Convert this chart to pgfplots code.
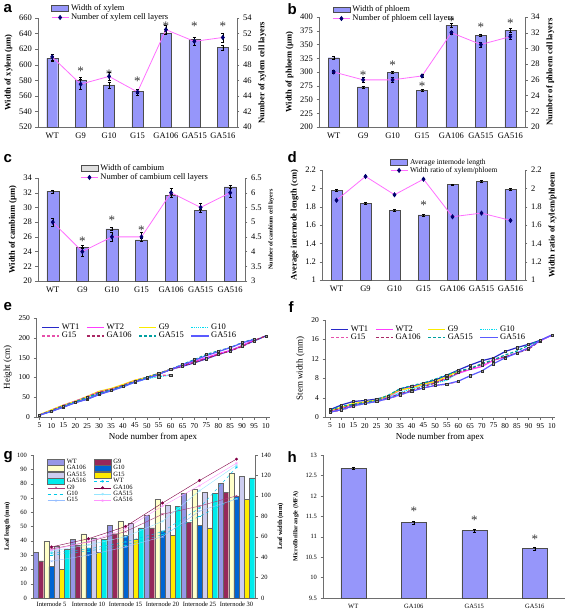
\documentclass[border=0pt]{standalone}
\usepackage{pgfplots}
\pgfplotsset{compat=1.18}
\usepackage{fontspec}
\setmainfont{Liberation Serif}
\newfontfamily\letterfont{Liberation Sans}
\definecolor{barc}{RGB}{150,150,250}
\definecolor{linec}{RGB}{255,110,255}
\definecolor{markc}{RGB}{0,0,110}
\definecolor{axc}{RGB}{110,110,110}
\definecolor{cWTa}{RGB}{40,40,200}
\definecolor{cWTb}{RGB}{255,60,255}
\definecolor{cGnine}{RGB}{250,235,0}
\definecolor{cGten}{RGB}{0,220,240}
\definecolor{cGfift}{RGB}{230,80,170}
\definecolor{cGAa}{RGB}{170,40,100}
\definecolor{cGAb}{RGB}{0,160,160}
\definecolor{cGAc}{RGB}{90,90,255}
\newcommand{\fs}[1]{\fontsize{#1}{#1}\selectfont}
\tikzset{sigstar/.style={font=\fs{13}, inner sep=0pt, yshift=-2.5pt, black!80}}
\pgfplotsset{
  common/.style={scale only axis, anchor=north west,
    /pgf/number format/assume math mode=true,
    tick align=outside, axis line style={axc}, tick style={axc},
    major tick length=2.5pt},
  twinL/.style={common, axis y line*=left, axis x line*=bottom,
    xmin=-0.5, xmax=6.5, xtick={0,...,6},
    xticklabels={WT,G9,G10,G15,GA106,GA515,GA516},
    x tick style={draw=none},
    ticklabel style={font=\fs{8.5}},
    ylabel style={font=\bfseries\fs{8.5}}},
  twinR/.style={common, axis y line*=right, axis x line=none,
    xmin=-0.5, xmax=6.5,
    ticklabel style={font=\fs{8.5}},
    ylabel style={font=\bfseries\fs{8.5}},
    legend cell align=left,
    legend style={draw=none, fill=none, font=\fs{8.5}, anchor=north west, row sep=-2.5pt}},
  barplot/.style={ybar, fill=barc, draw=black!70,
    error bars/.cd, y dir=both, y explicit, error bar style={black, thin}, error mark options={rotate=90, mark size=1.5pt, black}},
  lineplot/.style={linec, thick, mark=diamond*, mark size=2pt, mark options={markc, fill=markc},
    error bars/.cd, y dir=both, y explicit, error bar style={black, thin}, error mark options={rotate=90, mark size=1.5pt, black}},
  barleg/.style={area legend, fill=barc, draw=black!70},
  lp/.style={#1, line width=1.2pt},
  lm/.style={only marks, mark=square*, mark size=1.1pt, mark options={solid, fill=gray!70, draw=black!80, line width=0.4pt}, forget plot},
  lplot/.style={common, axis y line*=left, axis x line*=bottom,
    xmin=3.5, xmax=101.7, xtick={5,10,...,100},
    xticklabels={5,10,15,20,25,30,35,40,45,50,55,60,65,70,75,80,85,90,95,10},
    ticklabel style={font=\fs{7.5}},
    xlabel={Node number from apex},
    xlabel style={font=\fs{9}, yshift=2pt},
    ylabel style={font=\fs{9}},
    legend columns=4, legend cell align=left,
    legend style={draw=none, fill=none, font=\fs{8.5}, anchor=north west, row sep=-3pt,
      /tikz/every even column/.append style={column sep=5pt}}},
}
\pgfplotstableread{
x WTa WTb Gnine Gten Gfift GAa GAb GAc
5 5 5 6 5 5 5 5 5
10 15 17 18 15 17 16 15 14
15 25 28 30 27 30 28 28 25
20 37 40 40 37 40 38 38 36
25 45 50 52 47 52 50 50 45
30 57 62 65 58 64 62 60 57
35 67 70 72 68 70 70 68 66
40 78 80 82 77 80 80 78 76
45 90 92 93 88 92 90 90 88
50 98 100 100 97 100 100 100 97
55 108 110 110 102 105 110 110 108
60 120 120 120 106 106 120 120 120
65 128 130 nan nan nan 130 133 132
70 137 140 nan nan nan 138 145 143
75 147 150 nan nan nan 148 158 155
80 158 160 nan nan nan 158 167 165
85 167 168 nan nan nan 167 175 175
90 180 180 nan nan nan 178 188 187
95 192 195 nan nan nan 193 197 196
100 205 nan nan nan nan 205 nan nan
}\heighttab
\pgfplotstableread{
x WTa WTb Gnine Gten Gfift GAa GAb GAc
5 1.5 1.2 1.3 1.0 1.0 1.2 1.4 1.0
10 2.5 1.8 2.0 1.5 1.4 1.8 2.2 1.5
15 3.2 2.6 2.8 2.3 2.2 2.5 2.6 2.3
20 3.4 3.0 3.1 2.8 2.8 3.0 3.0 2.8
25 3.7 3.4 3.5 3.2 3.2 3.3 3.5 3.2
30 4.3 4.2 4.4 4.0 3.8 3.9 4.5 3.8
35 5.8 5.5 5.6 5.0 4.5 4.8 5.8 4.6
40 6.3 6.2 6.0 5.8 5.4 5.5 6.5 5.3
45 6.9 6.7 6.8 6.4 6.0 6.3 7.0 6.0
50 7.6 7.2 7.3 7.0 6.5 7.0 7.8 6.5
55 8.6 7.9 8.3 7.6 6.8 8.0 8.7 6.8
60 9.7 9.0 9.5 9.2 7.3 9.2 9.5 7.4
65 10.7 9.8 nan nan nan 10.0 10.0 8.5
70 11.6 10.4 nan nan nan 10.8 11.0 9.5
75 12.2 11.7 nan nan nan 11.8 11.8 11.0
80 13.5 12.4 nan nan nan 12.4 12.8 12.2
85 14.3 13.2 nan nan nan 13.2 13.6 13.2
90 15.0 14.3 nan nan nan 14.0 14.8 14.2
95 15.8 15.7 nan nan nan 15.7 15.8 15.8
100 16.9 16.9 nan nan nan nan nan 16.9
}\widthtab
\begin{document}
\begin{tikzpicture}
\useasboundingbox (0,0) rectangle (567pt,-611pt);
% ---------------- panel letters
\node[font=\letterfont\bfseries\fs{15}, anchor=west] at (0pt,-9pt) {a};
\node[font=\letterfont\bfseries\fs{15}, anchor=west] at (284pt,-9pt) {b};
\node[font=\letterfont\bfseries\fs{15}, anchor=west] at (0pt,-159pt) {c};
\node[font=\letterfont\bfseries\fs{15}, anchor=west] at (284pt,-157pt) {d};
\node[font=\letterfont\bfseries\fs{15}, anchor=west] at (0pt,-307pt) {e};
\node[font=\letterfont\bfseries\fs{15}, anchor=west] at (285pt,-307pt) {f};
\node[font=\letterfont\bfseries\fs{15}, anchor=west] at (0pt,-457pt) {g};
\node[font=\letterfont\bfseries\fs{15}, anchor=west] at (284pt,-457pt) {h};

% ---------------- panel a
\begin{axis}[twinL, at={(38pt,-18pt)}, width=199pt, height=109pt,
  ymin=520, ymax=660, ytick={520,540,...,660}, ylabel={Width of  xylem (µm)}]
\addplot[bar width=11pt, barplot] coordinates {(0,608)+-(0,3) (1,580)+-(0,4) (2,574)+-(0,4) (3,566)+-(0,2) (4,641)+-(0,2) (5,633)+-(0,2) (6,622)+-(0,3)};
\node[sigstar] at (axis cs:1,595) {*};
\node[sigstar] at (axis cs:2,591) {*};
\node[sigstar] at (axis cs:3,582) {*};
\node[sigstar] at (axis cs:4,652) {*};
\node[sigstar] at (axis cs:5,652) {*};
\node[sigstar] at (axis cs:6,652) {*};
\end{axis}
\begin{axis}[twinR, at={(38pt,-18pt)}, width=199pt, height=109pt,
  ymin=40, ymax=54, ytick={40,42,...,54}, ylabel={Number of xylem cell layers},
  legend style={at={(0.05,1.16)}}]
\addlegendimage{barleg}\addlegendentry{Width of xylem}
\addplot[lineplot] coordinates {(0,49)+-(0,0.4) (1,45.5)+-(0,0.6) (2,46.5)+-(0,0.5) (3,44.5)+-(0,0.4) (4,52.5)+-(0,0.6) (5,51)+-(0,0.5) (6,51.5)+-(0,0.6)};
\addlegendentry{Number of xylem cell layers}
\end{axis}

% ---------------- panel b
\begin{axis}[twinL, at={(319pt,-17pt)}, width=206pt, height=110pt,
  ymin=200, ymax=400, ytick={200,225,...,400}, ylabel={Width of phloem (µm)}]
\addplot[bar width=11pt, barplot] coordinates {(0,326)+-(0,2) (1,273)+-(0,2) (2,299)+-(0,2) (3,267)+-(0,2) (4,385)+-(0,3) (5,367)+-(0,2) (6,376)+-(0,3)};
\node[sigstar] at (axis cs:1,298) {*};
\node[sigstar] at (axis cs:2,316) {*};
\node[sigstar] at (axis cs:3,278) {*};
\node[sigstar] at (axis cs:4,397) {*};
\node[sigstar] at (axis cs:5,386) {*};
\node[sigstar] at (axis cs:6,393) {*};
\end{axis}
\begin{axis}[twinR, at={(319pt,-17pt)}, width=206pt, height=110pt,
  ymin=20, ymax=34, ytick={20,22,...,34}, ylabel={Number of  phloem  cell layers},
  legend style={at={(0.05,1.14)}}]
\addlegendimage{barleg}\addlegendentry{Width of  phloem}
\addplot[lineplot] coordinates {(0,27)+-(0,0.2) (1,26)+-(0,0.3) (2,26)+-(0,0.3) (3,26.5)+-(0,0.2) (4,32)+-(0,0.2) (5,30.5)+-(0,0.3) (6,31.5)+-(0,0.3)};
\addlegendentry{Number of phloem cell layers}
\end{axis}

% ---------------- panel c
\begin{axis}[twinL, at={(38pt,-178pt)}, width=207pt, height=103pt,
  ymin=20, ymax=34, ytick={20,22,...,34}, ylabel={Width of  cambium (µm)}]
\addplot[bar width=12pt, barplot] coordinates {(0,32.2)+-(0,0.2) (1,24.6)+-(0,0.2) (2,27.1)+-(0,0.2) (3,25.6)+-(0,0.2) (4,31.6)+-(0,0.2) (5,29.6)+-(0,0.2) (6,32.8)+-(0,0.2)};
\node[sigstar] at (axis cs:1,25.7) {*};
\node[sigstar] at (axis cs:2,28.6) {*};
\node[sigstar] at (axis cs:3,27.3) {*};
\end{axis}
\begin{axis}[twinR, at={(38pt,-178pt)}, width=207pt, height=103pt,
  ymin=3, ymax=6.5, ytick={3,3.5,...,6.5}, ylabel={Number of cambium cell layers},
  ylabel style={font=\bfseries\fs{6}},
  legend style={at={(0.19,1.17)}}]
\addlegendimage{area legend, fill=gray!25, draw=black!70}\addlegendentry{Width of  cambium}
\addplot[lineplot] coordinates {(0,5)+-(0,0.15) (1,4)+-(0,0.15) (2,4.5)+-(0,0.15) (3,4.5)+-(0,0.15) (4,6)+-(0,0.15) (5,5.5)+-(0,0.15) (6,6)+-(0,0.15)};
\addlegendentry{Number of cambium cell layers}
\end{axis}

% ---------------- panel d
\begin{axis}[twinL, at={(322pt,-170pt)}, width=203pt, height=110pt,
  ymin=1, ymax=2.2, ytick={1,1.2,...,2.2}, ylabel={Average internode length (cm)}]
\addplot[bar width=11pt, barplot] coordinates {(0,1.98)+-(0,0.01) (1,1.84)+-(0,0.01) (2,1.76)+-(0,0.01) (3,1.71)+-(0,0.01) (4,2.04)+-(0,0.01) (5,2.08)+-(0,0.01) (6,1.99)+-(0,0.01)};
\node[sigstar] at (axis cs:3,1.84) {*};
\end{axis}
\begin{axis}[twinR, at={(322pt,-170pt)}, width=203pt, height=110pt,
  ymin=1, ymax=2.2, ytick={1,1.2,...,2.2}, ylabel={Width ratio of xylem/phloem},
  legend style={at={(0.32,1.14)}, font=\fs{7.5}}]
\addlegendimage{barleg}\addlegendentry{Average internode length}
\addplot[lineplot] coordinates {(0,1.87) (1,2.13) (2,1.93) (3,2.10) (4,1.69) (5,1.73) (6,1.65)};
\addlegendentry{Width ratio of xylem/phloem}
\end{axis}

% ---------------- panel e
\begin{axis}[lplot, at={(36pt,-318pt)}, width=234pt, height=99pt,
  ymin=0, ymax=250, ytick={0,50,...,250}, ylabel={Height (cm)},
  legend style={at={(0.01,0.98)}}]
\addplot[lp=cWTa] table[x=x,y=WTa] {\heighttab};\addlegendentry{WT1}
\addplot[lp=cWTb] table[x=x,y=WTb] {\heighttab};\addlegendentry{WT2}
\addplot[lp=cGnine] table[x=x,y=Gnine] {\heighttab};\addlegendentry{G9}
\addplot[lp=cGten, densely dotted] table[x=x,y=Gten] {\heighttab};\addlegendentry{G10}
\addplot[lp=cGfift, densely dashed] table[x=x,y=Gfift] {\heighttab};\addlegendentry{G15}
\addplot[lp=cGAa, densely dashed] table[x=x,y=GAa] {\heighttab};\addlegendentry{GA106}
\addplot[lp=cGAb, densely dashed] table[x=x,y=GAb] {\heighttab};\addlegendentry{GA515}
\addplot[lp=cGAc] table[x=x,y=GAc] {\heighttab};\addlegendentry{GA516}
\addplot[lm] table[x=x,y=WTa] {\heighttab};
\addplot[lm] table[x=x,y=Gten] {\heighttab};
\addplot[lm] table[x=x,y=GAb] {\heighttab};
\end{axis}

% ---------------- panel f
\begin{axis}[lplot, at={(325pt,-320pt)}, width=230pt, height=97pt,
  xmin=2.9, xmax=101.3,
  ymin=0, ymax=20, ytick={0,4,...,20}, ylabel={Stem width (mm)},
  legend style={at={(0.01,0.98)}}]
\addplot[lp=cWTa] table[x=x,y=WTa] {\widthtab};\addlegendentry{WT1}
\addplot[lp=cWTb] table[x=x,y=WTb] {\widthtab};\addlegendentry{WT2}
\addplot[lp=cGnine] table[x=x,y=Gnine] {\widthtab};\addlegendentry{G9}
\addplot[lp=cGten, densely dotted] table[x=x,y=Gten] {\widthtab};\addlegendentry{G10}
\addplot[lp=cGfift, densely dashed] table[x=x,y=Gfift] {\widthtab};\addlegendentry{G15}
\addplot[lp=cGAa, densely dashed] table[x=x,y=GAa] {\widthtab};\addlegendentry{GA106}
\addplot[lp=cGAb, densely dashed] table[x=x,y=GAb] {\widthtab};\addlegendentry{GA515}
\addplot[lp=cGAc] table[x=x,y=GAc] {\widthtab};\addlegendentry{GA516}
\addplot[lm] table[x=x,y=WTa] {\widthtab};
\addplot[lm] table[x=x,y=GAa] {\widthtab};
\addplot[lm] table[x=x,y=GAc] {\widthtab};
\end{axis}

% ---------------- panel g
\begin{axis}[common, at={(33pt,-455pt)}, width=222pt, height=143pt,
  axis y line*=left, axis x line*=bottom,
  ybar=0pt, bar width=5.2pt,
  xmin=-0.5, xmax=5.5, xtick={0,...,5},
  xticklabels={Internode 5,Internode 10,Internode 15,Internode 20,Internode 25,Internode 30},
  x tick style={draw=none},
  xticklabel style={yshift=2pt},
  ymin=0, ymax=100, ytick={0,10,...,100},
  ticklabel style={font=\fs{6.5}},
  ylabel={Leaf length (mm)}, ylabel style={font=\bfseries\fs{6.5}},
  every axis plot/.append style={draw=black!60, line width=0.3pt}]
\addplot[fill={rgb,255:red,150;green,150;blue,230}] coordinates {(0,32)(1,41)(2,51)(3,58)(4,73)(5,80)};
\addplot[fill={rgb,255:red,150;green,40;blue,90}] coordinates {(0,26)(1,37)(2,45)(3,49)(4,53)(5,74)};
\addplot[fill={rgb,255:red,255;green,255;blue,200}] coordinates {(0,40)(1,45)(2,54)(3,69)(4,76)(5,87)};
\addplot[fill={rgb,255:red,0;green,100;blue,210}] coordinates {(0,22)(1,35)(2,44)(3,47)(4,51)(5,71)};
\addplot[fill={rgb,255:red,205;green,205;blue,240}] coordinates {(0,36)(1,42)(2,52)(3,65)(4,74)(5,85)};
\addplot[fill={rgb,255:red,255;green,235;blue,0}] coordinates {(0,20)(1,32)(2,41)(3,44)(4,49)(5,69)};
\addplot[fill={rgb,255:red,0;green,235;blue,235}] coordinates {(0,34)(1,41)(2,49)(3,64)(4,73)(5,84)};
\end{axis}
\begin{axis}[common, at={(33pt,-455pt)}, width=222pt, height=143pt,
  axis y line*=right, axis x line=none,
  xmin=-0.5, xmax=5.5,
  ymin=0, ymax=140, ytick={0,20,...,140},
  ticklabel style={font=\fs{6.5}},
  ylabel={Leaf width (mm)}, ylabel style={font=\bfseries\fs{6.5}},
  legend columns=2, legend cell align=left,
  legend style={draw=none, fill=none, font=\fs{6.5}, at={(0.05,1.0)}, anchor=north west,
    row sep=-3.4pt, /tikz/every even column/.append style={column sep=6pt}},
  every axis plot/.append style={thin, mark size=1.3pt}]
\addlegendimage{area legend, fill={rgb,255:red,150;green,150;blue,230}, draw=black!60}
\addlegendimage{area legend, fill={rgb,255:red,150;green,40;blue,90}, draw=black!60}
\addlegendimage{area legend, fill={rgb,255:red,255;green,255;blue,200}, draw=black!60}
\addlegendimage{area legend, fill={rgb,255:red,0;green,100;blue,210}, draw=black!60}
\addlegendimage{area legend, fill={rgb,255:red,205;green,205;blue,240}, draw=black!60}
\addlegendimage{area legend, fill={rgb,255:red,255;green,235;blue,0}, draw=black!60}
\addlegendimage{area legend, fill={rgb,255:red,0;green,235;blue,235}, draw=black!60}
\addplot[color={rgb,255:red,0;green,200;blue,240}, dashed, mark=asterisk, mark options={solid}] coordinates {(0,44)(1,48)(2,55)(3,65)(4,88)(5,128)};
\addplot[color={rgb,255:red,170;green,60;blue,120}, mark=x] coordinates {(0,48)(1,55)(2,65)(3,82)(4,90)(5,100)};
\addplot[color={rgb,255:red,130;green,0;blue,70}, mark=*] coordinates {(0,50)(1,58)(2,70)(3,93)(4,115)(5,136)};
\addplot[color={rgb,255:red,0;green,200;blue,230}, dashed, mark=-, mark options={solid}] coordinates {(0,42)(1,46)(2,52)(3,62)(4,80)(5,98)};
\addplot[color={rgb,255:red,150;green,230;blue,255}, mark=asterisk] coordinates {(0,46)(1,52)(2,60)(3,75)(4,105)(5,130)};
\addplot[color={rgb,255:red,150;green,190;blue,255}, mark=x] coordinates {(0,36)(1,42)(2,50)(3,60)(4,85)(5,97)};
\addplot[color={rgb,255:red,255;green,150;blue,255}, mark=asterisk] coordinates {(0,47)(1,55)(2,68)(3,90)(4,110)(5,132)};
\legend{WT,G9,GA106,G10,GA515,G15,GA516,WT,G9,GA106,G10,GA515,G15,GA516}
\end{axis}

% ---------------- panel h
\begin{axis}[common, at={(323pt,-455pt)}, width=242pt, height=143pt,
  axis y line*=left, axis x line*=bottom,
  xmin=-0.5, xmax=3.5, xtick={0,...,3}, xticklabels={WT,GA106,GA515,GA516},
  x tick style={draw=none},
  ymin=9.5, ymax=13, ytick={9.5,10,...,13},
  ticklabel style={font=\fs{6.5}},
  ylabel={Microfibrillar angle (MFA)}, ylabel style={font=\bfseries\fs{6}}]
\addplot[bar width=25pt, barplot] coordinates {(0,12.68)+-(0,0.03) (1,11.35)+-(0,0.04) (2,11.15)+-(0,0.04) (3,10.71)+-(0,0.04)};
\node[sigstar] at (axis cs:1,11.68) {*};
\node[sigstar] at (axis cs:2,11.47) {*};
\node[sigstar] at (axis cs:3,11.0) {*};
\end{axis}
\end{tikzpicture}
\end{document}
